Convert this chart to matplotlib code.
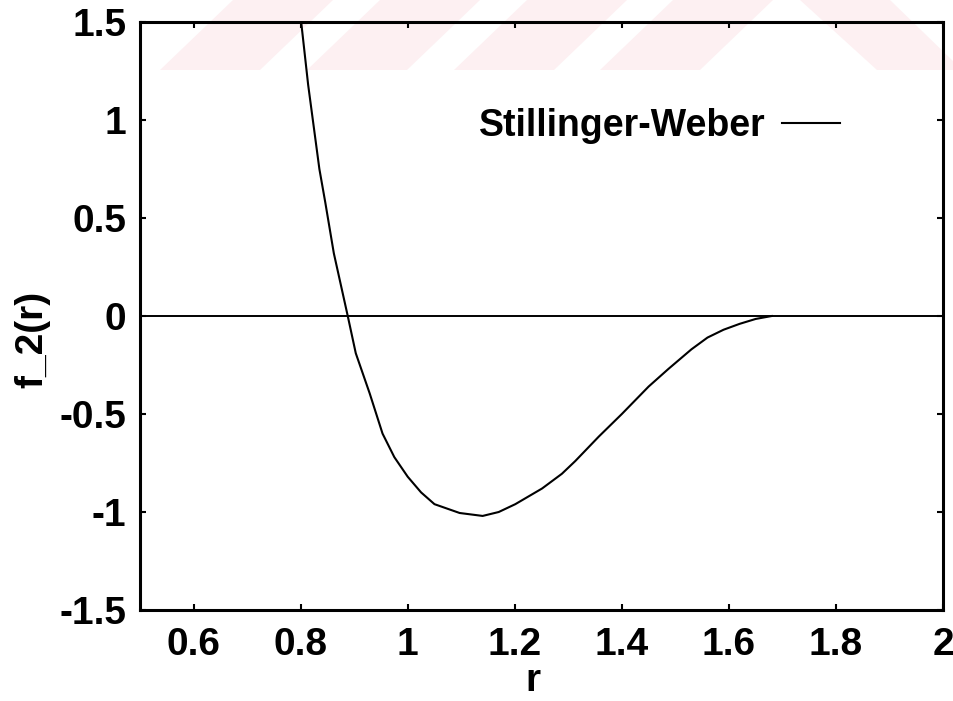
import matplotlib
matplotlib.use('Agg')
import matplotlib.pyplot as plt
from matplotlib.patches import Polygon

# valores
r = [0.801, 0.814, 0.835, 0.846, 0.862, 0.888, 0.903, 0.929, 0.953, 0.975,
     1.0, 1.025, 1.05, 1.097, 1.14, 1.17, 1.201, 1.251, 1.288, 1.313,
     1.357, 1.40, 1.45, 1.487, 1.53, 1.56, 1.59, 1.62, 1.65, 1.68]
f2 = [1.5, 1.18, 0.75, 0.58, 0.32, 0.0, -0.19, -0.395, -0.60, -0.72,
      -0.82, -0.90, -0.96, -1.005, -1.02, -1.0, -0.96, -0.88, -0.805, -0.74,
      -0.615, -0.50, -0.36, -0.27, -0.17, -0.11, -0.07, -0.04, -0.015, 0.0]

xticks = [0.6, 0.8, 1, 1.2, 1.4, 1.6, 1.8, 2]
xlabels = ['0.6', '0.8', '1', '1.2', '1.4', '1.6', '1.8', '2']
yticks = [-1.5, -1, -0.5, 0, 0.5, 1, 1.5]
ylabels = ['-1.5', '-1', '-0.5', '0', '0.5', '1', '1.5']

plt.rcParams['font.family'] = ['Liberation Sans', 'DejaVu Sans']
plt.rcParams['font.weight'] = 'bold'

fig = plt.figure(figsize=(9.54, 7.01), dpi=100)

# marca de agua rosada (escaneo) en la parte superior
W, H = 954.0, 701.0
rosa = '#fdf0f2'
bandas = []
for x0 in [160, 307, 454, 600]:
    bandas.append([(x0, H - 70), (x0 + 100, H - 70), (x0 + 173, H), (x0 + 73, H)])
bandas.append([(800, H), (890, H), (954, H - 62), (954, H - 70), (877, H - 70)])
for pts in bandas:
    fig.patches.append(Polygon([(a / W, b / H) for a, b in pts], closed=True,
                               transform=fig.transFigure, color=rosa,
                               lw=0, zorder=-5))

ax = fig.add_axes([0.1468, 0.1298, 0.8417, 0.8388])
ax.patch.set_alpha(0)

ax.axhline(0, color='black', lw=1.4)
ax.plot(r, f2, color='black', lw=1.5, label='Stillinger-Weber')

ax.set_xlim(0.5, 2)
ax.set_ylim(-1.5, 1.5)
ax.set_xticks(xticks)
ax.set_xticklabels(xlabels)
ax.set_yticks(yticks)
ax.set_yticklabels(ylabels)
ax.tick_params(direction='in', length=4, width=1.5, labelsize=28,
               top=True, right=True)
ax.tick_params(axis='x', pad=12)
ax.tick_params(axis='y', pad=10)
for s in ax.spines.values():
    s.set_linewidth(2.2)

ax.set_xlabel('r', fontsize=28, fontweight='bold')
ax.set_ylabel('f_2(r)', fontsize=28, fontweight='bold')
ax.xaxis.set_label_coords(0.489, -0.09)
ax.yaxis.set_label_coords(-0.112, 0.46)

ax.legend(loc='center right', bbox_to_anchor=(0.872, 0.8225), frameon=False,
          markerfirst=False, handlelength=1.55, handletextpad=0.45,
          borderpad=0, borderaxespad=0, prop={'size': 27, 'weight': 'bold'})

plt.savefig('out.png', dpi=100)
